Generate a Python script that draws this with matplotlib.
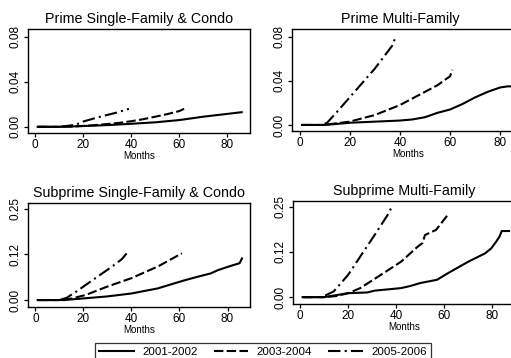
import matplotlib
matplotlib.use("Agg")
import matplotlib.pyplot as plt
from matplotlib.ticker import FixedLocator, FixedFormatter

plt.rcParams["font.family"] = ["Liberation Sans", "DejaVu Sans"]

# cohort labels and line styles
cohorts = ["2001-2002", "2003-2004", "2005-2006"]
dashes = [None, (0, (4.5, 1.6)), (0, (6, 2, 1, 2))]

# Prime single-family & condo
psf_m01 = [1, 10, 15, 20, 30, 40, 50, 60, 70, 80, 86]
psf_v01 = [0, 0, 0.0003, 0.0007, 0.0015, 0.0027, 0.004, 0.006, 0.009, 0.0115, 0.013]
psf_m03 = [1, 10, 15, 20, 25, 30, 35, 40, 45, 50, 55, 60, 62]
psf_v03 = [0, 0, 0.0002, 0.0008, 0.0015, 0.0025, 0.0035, 0.005, 0.0068, 0.009, 0.0113, 0.014, 0.016]
psf_m05 = [1, 10, 14, 17, 20, 27, 34, 39]
psf_v05 = [0, 0, 0.001, 0.002, 0.0047, 0.009, 0.0127, 0.016]

# Prime multi-family
pmf_m01 = [1, 10, 20, 30, 40, 45, 50, 55, 60, 65, 70, 75, 80, 83, 86]
pmf_v01 = [0, 0, 0.002, 0.003, 0.004, 0.005, 0.007, 0.011, 0.014, 0.019, 0.025, 0.030, 0.034, 0.035, 0.035]
pmf_m03 = [1, 10, 13, 20, 30, 40, 50, 55, 58, 60, 61]
pmf_v03 = [0, 0, 0.001, 0.003, 0.009, 0.018, 0.030, 0.036, 0.041, 0.044, 0.050]
pmf_m05 = [1, 9, 11, 15, 20, 25, 30, 35, 37, 38]
pmf_v05 = [0, 0, 0.002, 0.012, 0.025, 0.038, 0.051, 0.066, 0.072, 0.078]

# Subprime single-family & condo
ssf_m01 = [1, 12, 21, 30, 40, 51, 61, 67, 73, 76, 81, 85, 86]
ssf_v01 = [0, 0, 0.005, 0.010, 0.018, 0.032, 0.052, 0.063, 0.073, 0.082, 0.093, 0.101, 0.114]
ssf_m03 = [1, 10, 15, 21, 30, 40, 51, 61]
ssf_v03 = [0, 0, 0.004, 0.014, 0.037, 0.060, 0.092, 0.128]
ssf_m05 = [1, 10, 13, 17, 25, 32, 36, 38]
ssf_v05 = [0, 0, 0.006, 0.023, 0.060, 0.092, 0.112, 0.128]

# Subprime multi-family
smf_m01 = [1, 10, 20, 28, 31, 42, 46, 50, 57, 61.5, 70, 77, 79.6, 81.6, 83, 84, 87]
smf_v01 = [0, 0, 0.011, 0.013, 0.018, 0.025, 0.031, 0.039, 0.048, 0.066, 0.098, 0.121,
           0.135, 0.153, 0.167, 0.183, 0.183]
smf_m03 = [1, 10, 15, 20, 25, 33.7, 42, 49, 51, 52, 56.6, 60, 62]
smf_v03 = [0, 0, 0.003, 0.011, 0.025, 0.062, 0.098, 0.140, 0.150, 0.172, 0.186, 0.215, 0.232]
smf_m05 = [1, 9, 14, 20, 25, 31, 36.4, 37.8]
smf_v05 = [0, 0, 0.016, 0.062, 0.112, 0.172, 0.227, 0.245]

titles = ["Prime Single-Family & Condo", "Prime Multi-Family",
          "Subprime Single-Family & Condo", "Subprime Multi-Family"]
top_ticks = [0, 0.04, 0.08]
top_labels = ["0.00", "0.04", "0.08"]
bot_ticks = [0, 0.125, 0.25]
bot_labels = ["0.00", "0.12", "0.25"]

# axes rect, title x (axes fraction), series
panels = [
    ([0.055, 0.6285, 0.4344, 0.2905], 0.5,
     [(psf_m01, psf_v01), (psf_m03, psf_v03), (psf_m05, psf_v05)]),
    ([0.5714, 0.634, 0.454, 0.285], 0.466,
     [(pmf_m01, pmf_v01), (pmf_m03, pmf_v03), (pmf_m05, pmf_v05)]),
    ([0.055, 0.1425, 0.435, 0.2905], 0.5,
     [(ssf_m01, ssf_v01), (ssf_m03, ssf_v03), (ssf_m05, ssf_v05)]),
    ([0.5734, 0.1508, 0.4344, 0.2877], 0.5,
     [(smf_m01, smf_v01), (smf_m03, smf_v03), (smf_m05, smf_v05)]),
]

fig = plt.figure(figsize=(5.11, 3.58), dpi=100)
fig.patch.set_facecolor("white")

handles = []
for i, (pos, tx, series) in enumerate(panels):
    ax = fig.add_axes(pos)
    for (m, v), ls, lab in zip(series, dashes, cohorts):
        kw = dict(color="black", lw=1.5, label=lab)
        if ls is not None:
            kw["linestyle"] = ls
        ln, = ax.plot(m, v, **kw)
        if i == 0:
            handles.append(ln)
    ax.set_title(titles[i], fontsize=10.3, pad=4, x=tx)
    ax.set_xlim(-3, 89.5)
    if i < 2:
        ax.set_ylim(-0.0055, 0.087)
        ticks, labels = top_ticks, top_labels
    else:
        ax.set_ylim(-0.019, 0.266)
        ticks, labels = bot_ticks, bot_labels
    ax.yaxis.set_major_locator(FixedLocator(ticks))
    ax.yaxis.set_major_formatter(FixedFormatter(labels))
    ax.set_xticks([0, 20, 40, 60, 80])
    ax.tick_params(axis="both", direction="out", length=3, width=0.9,
                   labelsize=8.5, pad=1.5)
    for t in ax.get_yticklabels():
        t.set_rotation(90)
        t.set_va("center")
    ax.set_xlabel("Months", fontsize=7, labelpad=0)
    for s in ax.spines.values():
        s.set_linewidth(1.0)

leg = fig.legend(handles=handles, labels=cohorts, loc="lower center",
                 bbox_to_anchor=(0.515, -0.025), ncol=3, fontsize=8.25,
                 frameon=True, fancybox=False, edgecolor="black",
                 handlelength=3.0, columnspacing=1.4, handletextpad=0.75,
                 borderpad=0.35)
leg.get_frame().set_linewidth(0.9)

fig.savefig("out.png", dpi=100)
